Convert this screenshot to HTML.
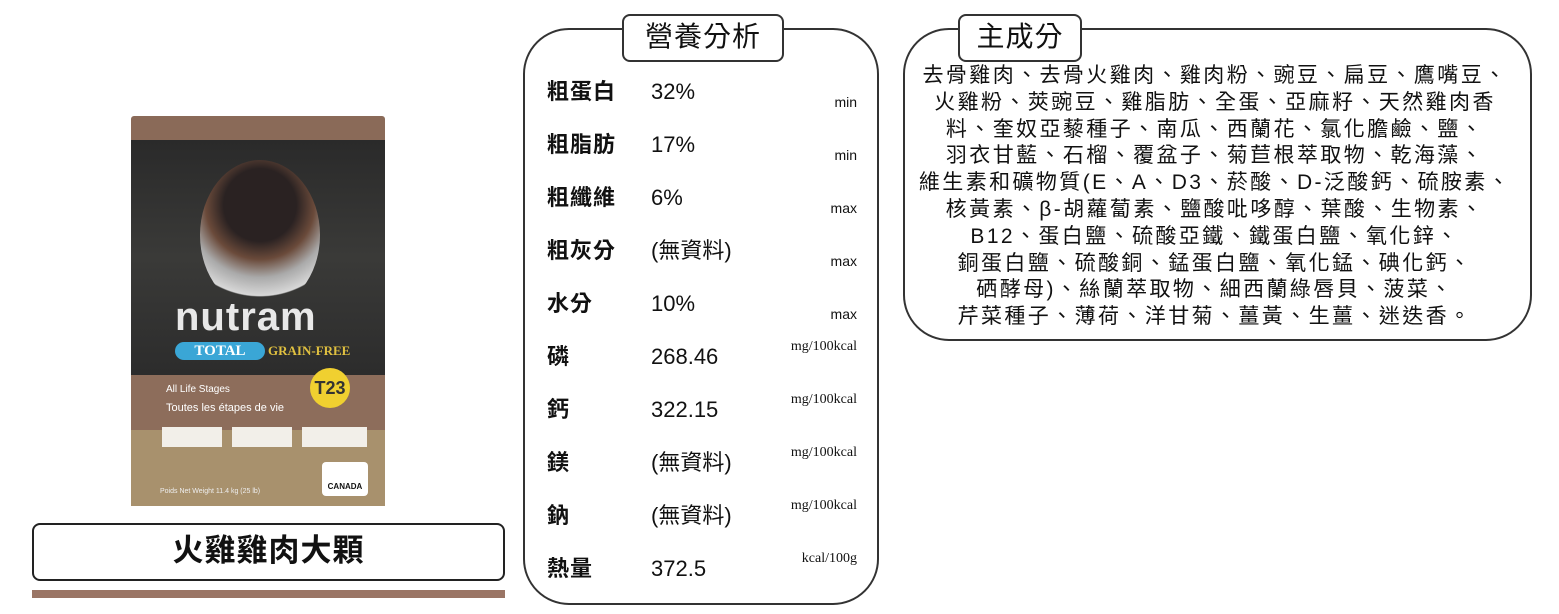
<!DOCTYPE html>
<html><head><meta charset="utf-8"><style>
body{margin:0;width:1559px;height:614px;background:#fff;position:relative;overflow:hidden;font-family:"Liberation Sans","Noto Sans CJK TC",sans-serif;color:#111}
.abs{position:absolute}
.panel{position:absolute;border:2.5px solid #333;border-radius:46px;box-sizing:border-box;background:#fff}
.tag{position:absolute;border:2.5px solid #333;border-radius:8px;background:#fff;box-sizing:border-box;text-align:center;font-size:28px;line-height:42px;letter-spacing:1px}
.row{position:absolute;left:547px;font-size:22px;line-height:26px;font-weight:bold;letter-spacing:1px}
.v{position:absolute;left:651px;font-size:22px;line-height:26px;white-space:nowrap}
.u{position:absolute;right:702px;font-size:14px;white-space:nowrap}
.s{font-family:"Liberation Serif",serif}
.ing{position:absolute;left:880px;width:670px;top:63px;text-align:center;font-size:21px;line-height:26.8px;letter-spacing:2.4px}
</style></head><body>
<!-- product bag -->
<div class="abs" style="left:131px;top:116px;width:254px;height:390px;background:#8a6a58;border-radius:3px"></div>
<div class="abs" style="left:131px;top:140px;width:254px;height:235px;background:linear-gradient(180deg,#2a2a2a,#3a3a38 50%,#2c2c2c)"></div>
<div class="abs" style="left:200px;top:160px;width:120px;height:150px;border-radius:50%;background:radial-gradient(circle at 50% 30%,#2a2222 30%,#6a4a3a 45%,#aaa 60%,#d8d8d8 75%,transparent 76%)"></div>
<div class="abs" style="left:131px;top:375px;width:254px;height:55px;background:#8d6d5b"></div>
<div class="abs" style="left:131px;top:430px;width:254px;height:76px;background:#a8916d"></div>
<div class="abs" style="left:175px;top:297px;font-size:40px;font-weight:bold;color:#e8e8e8;letter-spacing:1px;line-height:40px">nutram</div>
<div class="abs" style="left:175px;top:342px;width:90px;height:18px;background:#3aa6d6;border-radius:9px;color:#fff;font:bold 15px/18px 'Liberation Serif',serif;text-align:center">TOTAL</div>
<div class="abs" style="left:268px;top:342px;color:#e0c040;font:bold 13px/18px 'Liberation Serif',serif">GRAIN-FREE</div>
<div class="abs" style="left:310px;top:368px;width:40px;height:40px;border-radius:50%;background:#f0d030;font:bold 18px/40px sans-serif;text-align:center;color:#333">T23</div>
<div class="abs" style="left:166px;top:384px;color:#fff;font-size:10px">All Life Stages</div>
<div class="abs" style="left:166px;top:402px;color:#fff;font-size:11px">Toutes les étapes de vie</div>
<div class="abs" style="left:162px;top:427px;width:60px;height:20px;background:#f2efe9"></div>
<div class="abs" style="left:232px;top:427px;width:60px;height:20px;background:#f2efe9"></div>
<div class="abs" style="left:302px;top:427px;width:65px;height:20px;background:#f2efe9"></div>
<div class="abs" style="left:322px;top:462px;width:46px;height:34px;background:#fff;border-radius:4px;font-size:8px;text-align:center;padding-top:20px;box-sizing:border-box;font-weight:bold">CANADA</div>
<div class="abs" style="left:160px;top:488px;color:#eee;font-size:7px">Poids Net Weight 11.4 kg (25 lb)</div>

<!-- title -->
<div class="abs" style="left:32px;top:523px;width:473px;height:58px;border:2.5px solid #222;border-radius:8px;box-sizing:border-box;text-align:center;font-size:31px;line-height:52px;font-weight:bold;letter-spacing:1px">火雞雞肉大顆</div>
<div class="abs" style="left:32px;top:590px;width:473px;height:8px;background:#9a7565"></div>

<!-- nutrition -->
<div class="panel" style="left:523px;top:28px;width:356px;height:577px"></div>
<div class="tag" style="left:622px;top:14px;width:162px;height:48px">營養分析</div>
<div class="row" style="top:79px">粗蛋白</div><div class="v" style="top:79px">32%</div><div class="u" style="top:94px">min</div>
<div class="row" style="top:132px">粗脂肪</div><div class="v" style="top:132px">17%</div><div class="u" style="top:147px">min</div>
<div class="row" style="top:185px">粗纖維</div><div class="v" style="top:185px">6%</div><div class="u" style="top:200px">max</div>
<div class="row" style="top:238px">粗灰分</div><div class="v" style="top:238px">(無資料)</div><div class="u" style="top:253px">max</div>
<div class="row" style="top:291px">水分</div><div class="v" style="top:291px">10%</div><div class="u" style="top:306px">max</div>
<div class="row" style="top:344px">磷</div><div class="v" style="top:344px">268.46</div><div class="u s" style="top:339px">mg/100kcal</div>
<div class="row" style="top:397px">鈣</div><div class="v" style="top:397px">322.15</div><div class="u s" style="top:392px">mg/100kcal</div>
<div class="row" style="top:450px">鎂</div><div class="v" style="top:450px">(無資料)</div><div class="u s" style="top:445px">mg/100kcal</div>
<div class="row" style="top:503px">鈉</div><div class="v" style="top:503px">(無資料)</div><div class="u s" style="top:498px">mg/100kcal</div>
<div class="row" style="top:556px">熱量</div><div class="v" style="top:556px">372.5</div><div class="u s" style="top:551px">kcal/100g</div>

<!-- ingredients -->
<div class="panel" style="left:903px;top:28px;width:629px;height:313px"></div>
<div class="tag" style="left:958px;top:14px;width:124px;height:48px">主成分</div>
<div class="ing">去骨雞肉、去骨火雞肉、雞肉粉、豌豆、扁豆、鷹嘴豆、<br>火雞粉、莢豌豆、雞脂肪、全蛋、亞麻籽、天然雞肉香<br>料、奎奴亞藜種子、南瓜、西蘭花、氯化膽鹼、鹽、<br>羽衣甘藍、石榴、覆盆子、菊苣根萃取物、乾海藻、<br>維生素和礦物質(E、A、D3、菸酸、D-泛酸鈣、硫胺素、<br>核黃素、β-胡蘿蔔素、鹽酸吡哆醇、葉酸、生物素、<br>B12、蛋白鹽、硫酸亞鐵、鐵蛋白鹽、氧化鋅、<br>銅蛋白鹽、硫酸銅、錳蛋白鹽、氧化錳、碘化鈣、<br>硒酵母)、絲蘭萃取物、細西蘭綠唇貝、菠菜、<br>芹菜種子、薄荷、洋甘菊、薑黃、生薑、迷迭香。</div>
</body></html>
